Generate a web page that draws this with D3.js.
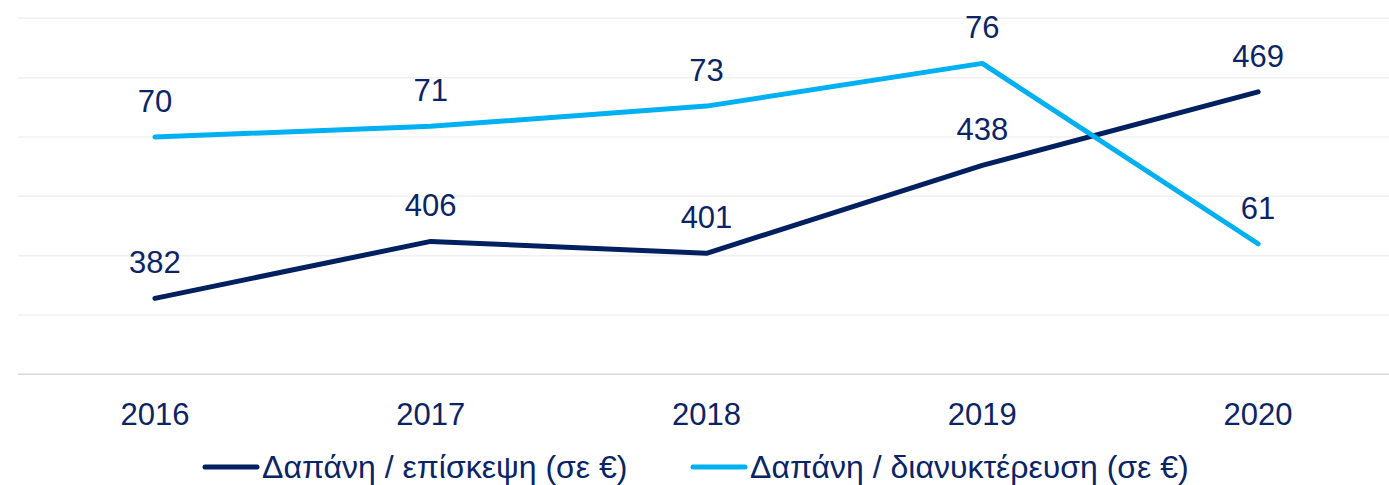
<!DOCTYPE html>
<html>
<head>
<meta charset="utf-8">
<script src="https://cdn.jsdelivr.net/npm/d3@7"></script>
<style>
html,body{margin:0;padding:0;background:#fff;}
svg{display:block;}
text{font-family:"Liberation Sans",Arial,sans-serif;}
</style>
</head>
<body>
<svg id="chart" width="1389" height="485"></svg>
<script>
const years = ["2016","2017","2018","2019","2020"];
const perVisit = [382, 406, 401, 438, 469];
const perNight = [70.0, 70.9, 72.6, 76.2, 61.0];
const seriesNames = ["Δαπάνη / επίσκεψη (σε €)", "Δαπάνη / διανυκτέρευση (σε €)"];
const leftTicks = [350, 375, 400, 425, 450, 475, 500];
const rightDomain = [50, 80];

(function(){
const W = 1389, H = 485;
const plotTop = 18.3, plotBottom = 374.3, plotLeft = 17, plotRight = 1396;
const navy = "#002060", cyan = "#00b0f0", textColor = "#0b2466";

const svg = d3.select("#chart");
const x = d3.scaleBand().domain(years).range([plotLeft, plotRight]).padding(0);
const yL = d3.scaleLinear().domain([leftTicks[0], leftTicks[leftTicks.length-1]]).range([plotBottom, plotTop]);
const yR = d3.scaleLinear().domain(rightDomain).range([plotBottom, plotTop]);
const cx = d => x(d) + x.bandwidth()/2;

// gridlines
svg.append("g").selectAll("line").data(leftTicks.slice(1)).join("line")
  .attr("x1", 18).attr("x2", W).attr("y1", d => yL(d)).attr("y2", d => yL(d))
  .attr("stroke", "#f0f0f0").attr("stroke-width", 1.5);

// x axis
const xAxis = svg.append("g").attr("transform", `translate(0,${plotBottom})`)
  .call(d3.axisBottom(x).tickSize(0).tickPadding(0));
xAxis.select(".domain").remove();
xAxis.append("line").attr("x1", 18).attr("x2", W).attr("y1", 0).attr("y2", 0)
  .attr("stroke", "#d9d9d9").attr("stroke-width", 1.5);
xAxis.selectAll(".tick text").attr("y", 50.7).attr("dy", 0)
  .attr("font-size", 31).attr("fill", textColor)
  .style("font-family", '"Liberation Sans",Arial,sans-serif');

function drawSeries(vals, yScale, color) {
  const pts = years.map((yr, i) => [cx(yr), yScale(vals[i]), vals[i]]);
  svg.append("path").datum(pts)
    .attr("d", d3.line().x(d => d[0]).y(d => d[1]))
    .attr("fill", "none").attr("stroke", color).attr("stroke-width", 5)
    .attr("stroke-linecap", "round").attr("stroke-linejoin", "round");
  svg.append("g").selectAll("text").data(pts).join("text")
    .attr("x", d => d[0]).attr("y", d => d[1] - 25)
    .attr("text-anchor", "middle").attr("font-size", 31).attr("fill", textColor)
    .text(d => d3.format(".0f")(d[2]));
}
drawSeries(perVisit, yL, navy);
drawSeries(perNight, yR, cyan);

// legend
const legend = [
  {name: seriesNames[0], color: navy, x0: 205},
  {name: seriesNames[1], color: cyan, x0: 693}
];
const lg = svg.append("g");
legend.forEach(l => {
  lg.append("line").attr("x1", l.x0).attr("x2", l.x0 + 52).attr("y1", 467).attr("y2", 467)
    .attr("stroke", l.color).attr("stroke-width", 5).attr("stroke-linecap", "round");
  lg.append("text").attr("x", l.x0 + 57).attr("y", 478)
    .attr("font-size", 32).attr("fill", textColor).text(l.name);
});
})();
</script>
</body>
</html>
